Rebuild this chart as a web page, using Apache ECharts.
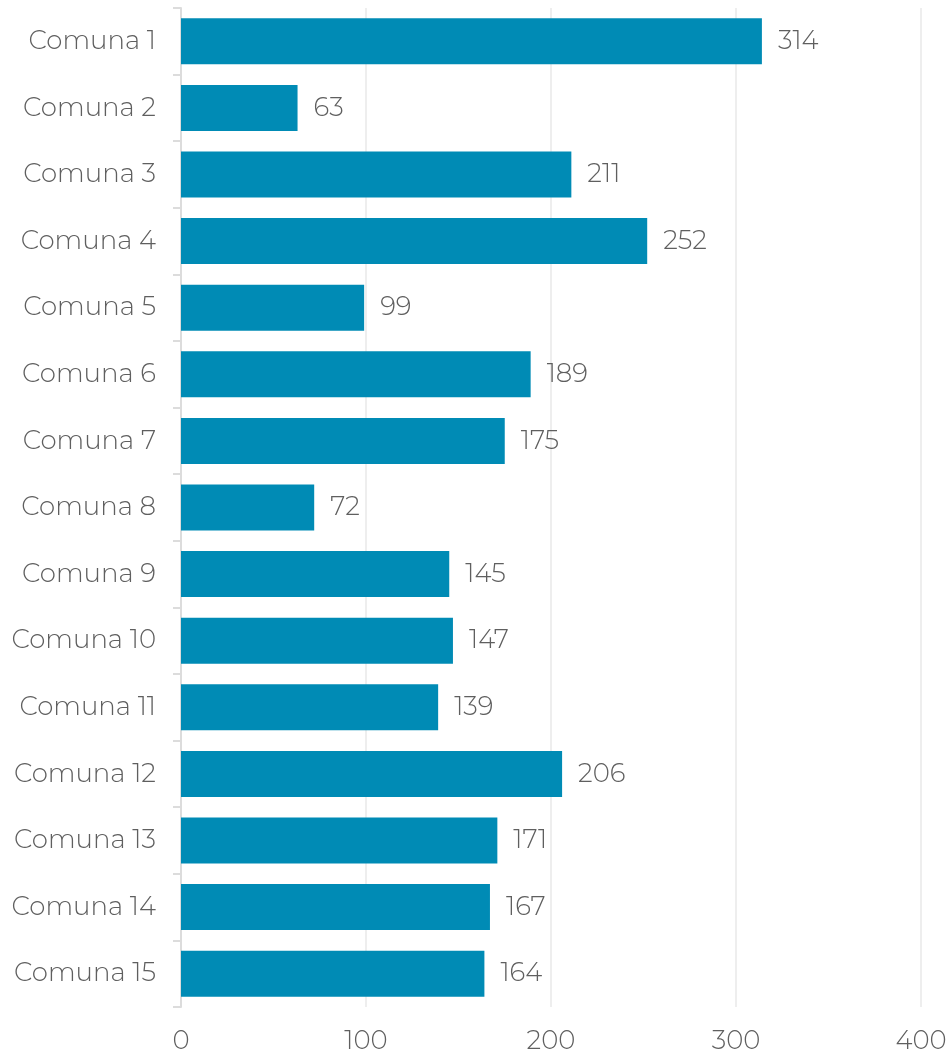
<!DOCTYPE html>
<html>
<head>
<meta charset="utf-8">
<script src="https://cdn.jsdelivr.net/npm/echarts@6/dist/echarts.min.js"></script>
<style>
  html, body { margin: 0; padding: 0; background: #fff; }
  #chart { width: 952px; height: 1055px; }
</style>
</head>
<body>
<div id="chart"></div>
<script>
// categorias (de arriba hacia abajo)
const comunas = ['Comuna 1', 'Comuna 2', 'Comuna 3', 'Comuna 4', 'Comuna 5', 'Comuna 6', 'Comuna 7', 'Comuna 8',
  'Comuna 9', 'Comuna 10', 'Comuna 11', 'Comuna 12', 'Comuna 13', 'Comuna 14', 'Comuna 15'];
const valores = [314, 63, 211, 252, 99, 189, 175, 72, 145, 147, 139, 206, 171, 167, 164];
const xTicks = [0, 100, 200, 300, 400];

const textColor = '#5f5f5f';
const fontFamily = 'Montserrat, "Open Sans", Lato, sans-serif';

const myChart = echarts.init(document.getElementById('chart'));

myChart.setOption({
  animation: false,
  grid: {
    left: 181,
    right: 31,
    top: 8,
    bottom: 48,
    containLabel: false
  },
  xAxis: {
    type: 'value',
    min: xTicks[0],
    max: xTicks[xTicks.length - 1],
    interval: 100,
    axisLine: { show: false },
    axisTick: { show: false },
    splitLine: {
      show: true,
      lineStyle: { color: '#eeeeee', width: 2 }
    },
    axisLabel: {
      color: textColor,
      fontSize: 26,
      fontFamily: fontFamily,
      fontWeight: 300,
      margin: 21
    }
  },
  yAxis: {
    type: 'category',
    inverse: true,
    data: comunas,
    axisLine: {
      show: true,
      lineStyle: { color: '#dcdcdc', width: 2 }
    },
    axisTick: {
      show: true,
      length: 8,
      lineStyle: { color: '#dcdcdc', width: 2 }
    },
    axisLabel: {
      color: textColor,
      fontSize: 26,
      fontFamily: fontFamily,
      fontWeight: 300,
      margin: 25,
      padding: [6, 0, 0, 0]
    }
  },
  series: [{
    type: 'bar',
    data: valores,
    barWidth: 46,
    itemStyle: { color: '#008bb5' },
    label: {
      show: true,
      position: 'right',
      distance: 16,
      color: textColor,
      fontSize: 26,
      fontFamily: fontFamily,
      fontWeight: 300,
      padding: [6, 0, 0, 0]
    }
  }]
});
</script>
</body>
</html>
